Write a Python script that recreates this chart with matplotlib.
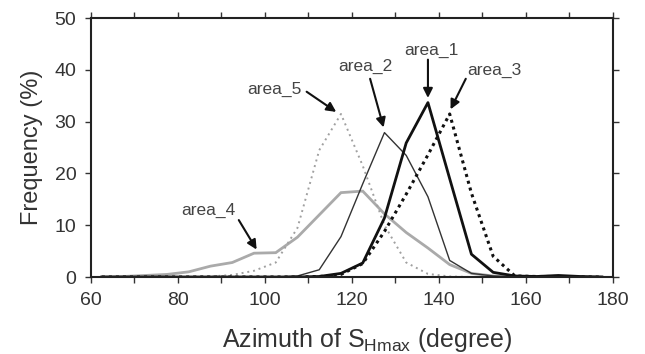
import matplotlib
matplotlib.use("Agg")
import matplotlib.pyplot as plt
import numpy as np
from matplotlib.ticker import MultipleLocator

plt.rcParams['font.family'] = ['Liberation Sans', 'DejaVu Sans']

# bin centres (degree), 5-degree bins
azimuth = [62.5, 67.5, 72.5, 77.5, 82.5, 87.5, 92.5, 97.5, 102.5, 107.5, 112.5, 117.5,
           122.5, 127.5, 132.5, 137.5, 142.5, 147.5, 152.5, 157.5, 162.5, 167.5, 172.5, 177.5]

# frequency (%) per area
area_1 = [0, 0, 0, 0, 0, 0, 0, 0, 0, 0, 0.1, 0.7,
          2.7, 11.4, 25.9, 33.7, 19.0, 4.4, 0.9, 0.2, 0.1, 0.3, 0.1, 0]
area_2 = [0, 0, 0, 0, 0, 0, 0, 0, 0, 0.2, 1.4, 7.8,
          18.0, 27.9, 23.5, 15.5, 3.2, 0.7, 0.2, 0, 0, 0, 0, 0]
area_3 = [0, 0, 0, 0, 0, 0, 0, 0, 0, 0, 0.1, 0.5,
          2.6, 8.8, 16.0, 23.6, 31.5, 16.2, 4.0, 0.2, 0.1, 0.1, 0, 0]
area_4 = [0, 0.1, 0.3, 0.5, 1.0, 2.1, 2.8, 4.6, 4.7, 7.7, 12.0, 16.3,
          16.6, 12.2, 8.6, 5.6, 2.4, 0.7, 0.2, 0.1, 0.1, 0, 0, 0]
area_5 = [0, 0, 0, 0, 0, 0.1, 0.4, 1.2, 2.8, 9.5, 24.5, 31.5,
          21.5, 10.0, 2.8, 0.6, 0.1, 0, 0, 0, 0, 0, 0, 0]

# label text, label position, arrow tail and tip
labels = ['area_1', 'area_2', 'area_3', 'area_4', 'area_5']
label_xy = [(138.4, 43.8), (123.0, 40.6), (152.8, 40.0), (87.0, 12.9), (102.2, 36.3)]
arrow_tail = [(137.5, 42.0), (124.2, 38.3), (146.2, 38.3), (94.0, 11.0), (109.6, 35.8)]
arrow_tip = [(137.5, 34.6), (127.3, 28.9), (142.7, 32.4), (98.1, 5.3), (116.4, 31.9)]

fig = plt.figure(figsize=(6.45, 3.54), dpi=100)
ax = fig.add_axes([0.141, 0.2175, 0.809, 0.731])

ax.plot(azimuth, area_4, color='#aaaaaa', lw=2.0, solid_joinstyle='miter')
ax.plot(azimuth, area_5, color='#a0a0a0', lw=1.4, ls=(0, (1, 2)))
ax.plot(azimuth, area_2, color='#333333', lw=1.0)
ax.plot(azimuth, area_3, color='#111111', lw=2.2, ls=(0, (1, 1.3)))
ax.plot(azimuth, area_1, color='#111111', lw=2.0)

for name, pos, tail, tip in zip(labels, label_xy, arrow_tail, arrow_tip):
    ax.text(pos[0], pos[1], name, fontsize=12.5, color='#444444', ha='center', va='center')
    ax.annotate('', xy=tip, xytext=tail,
                arrowprops=dict(arrowstyle='-|>', color='#111111', lw=1.5,
                                mutation_scale=14, shrinkA=0, shrinkB=0))

ax.set_xlim(60, 180)
ax.set_ylim(0, 50)
ax.xaxis.set_major_locator(MultipleLocator(20))
ax.xaxis.set_minor_locator(MultipleLocator(10))
ax.yaxis.set_major_locator(MultipleLocator(10))

ax.tick_params(which='both', direction='out', length=4.5, width=1.0, color='#333333',
               top=True, right=True, labelsize=14, labelcolor='#333333', pad=6)
for side in ax.spines.values():
    side.set_linewidth(1.5)
    side.set_color('#222222')

ax.set_ylabel('Frequency (%)', fontsize=17, color='#333333', labelpad=8)
ax.set_xlabel(r'Azimuth of S$_{\mathregular{Hmax}}$ (degree)', fontsize=18,
              color='#333333')
ax.xaxis.set_label_coords(0.53, -0.19)

fig.savefig('out.png', dpi=100)
